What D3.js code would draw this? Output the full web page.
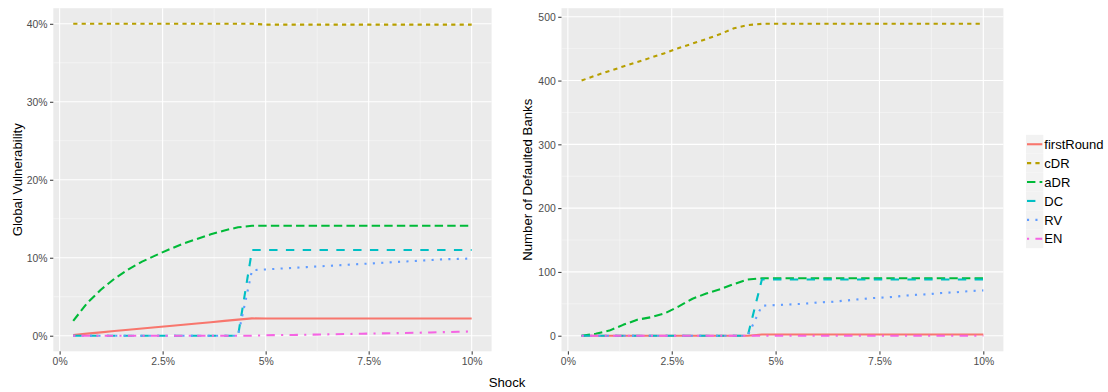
<!DOCTYPE html>
<html>
<head>
<meta charset="utf-8">
<script src="https://cdn.jsdelivr.net/npm/d3@7"></script>
<style>
  html, body { margin: 0; padding: 0; background: #ffffff; }
  svg { display: block; font-family: "Liberation Sans", Arial, sans-serif; }
</style>
</head>
<body>
<svg id="chart" width="1108" height="392"></svg>
<script>
// Shock levels (percent of assets)
const shock = [0.33, 0.67, 1.00, 1.33, 1.67, 2.00, 2.33, 2.67, 3.00, 3.33,
               3.67, 4.00, 4.33, 4.67, 5.00, 5.33, 5.67, 6.00, 6.33, 6.67,
               7.00, 7.33, 7.67, 8.00, 8.33, 8.67, 9.00, 9.33, 9.67, 10.00];

const seriesNames = ["firstRound", "cDR", "aDR", "DC", "RV", "EN"];

// Global vulnerability, percent
const vulnFirstRound = [0.10, 0.27, 0.43, 0.60, 0.76, 0.92, 1.08, 1.25, 1.41, 1.57,
                        1.73, 1.90, 2.06, 2.22, 2.20, 2.20, 2.20, 2.20, 2.20, 2.20,
                        2.20, 2.20, 2.20, 2.20, 2.20, 2.20, 2.20, 2.20, 2.20, 2.20];
const vulnCDR = [40.0, 40.0, 40.0, 40.0, 40.0, 40.0, 40.0, 40.0, 40.0, 40.0,
                 40.0, 40.0, 40.0, 40.0, 39.9, 39.9, 39.9, 39.9, 39.9, 39.9,
                 39.9, 39.9, 39.9, 39.9, 39.9, 39.9, 39.9, 39.9, 39.9, 39.9];
const vulnADR = [1.9, 4.2, 5.9, 7.3, 8.5, 9.5, 10.3, 11.1, 11.8, 12.4,
                 13.0, 13.5, 13.9, 14.1, 14.1, 14.1, 14.1, 14.1, 14.1, 14.1,
                 14.1, 14.1, 14.1, 14.1, 14.1, 14.1, 14.1, 14.1, 14.1, 14.1];
const vulnDC = [0, 0, 0, 0, 0, 0, 0, 0, 0, 0,
                0, 0, 0, 11.0, 11.0, 11.0, 11.0, 11.0, 11.0, 11.0,
                11.0, 11.0, 11.0, 11.0, 11.0, 11.0, 11.0, 11.0, 11.0, 11.0];
const vulnRV = [0, 0, 0, 0, 0, 0, 0, 0, 0, 0,
                0, 0, 0, 8.4, 8.5, 8.6, 8.7, 8.8, 8.9, 9.0,
                9.1, 9.2, 9.3, 9.4, 9.5, 9.6, 9.7, 9.8, 9.85, 9.9];
const vulnEN = [0, 0, 0, 0, 0, 0, 0, 0, 0, 0,
                0, 0, 0, 0, 0.05, 0.08, 0.10, 0.13, 0.16, 0.19,
                0.22, 0.25, 0.28, 0.31, 0.34, 0.38, 0.42, 0.46, 0.50, 0.55];

// Number of defaulted banks
const banksFirstRound = [0, 0, 0, 0, 0, 0, 0, 0, 0, 0,
                         0, 0, 0, 2, 2, 2, 2, 2, 2, 2,
                         2, 2, 2, 2, 2, 2, 2, 2, 2, 2];
const banksCDR = [400, 408, 415, 422, 429, 436, 443, 451, 458, 465,
                  473, 482, 487, 489, 489, 489, 489, 489, 489, 489,
                  489, 489, 489, 489, 489, 489, 489, 489, 489, 489];
const banksADR = [0, 3, 8, 17, 25, 29, 35, 46, 58, 66,
                  73, 81, 88, 90, 90, 90, 90, 90, 90, 90,
                  90, 90, 90, 90, 90, 90, 90, 90, 90, 90];
const banksDC = [0, 0, 0, 0, 0, 0, 0, 0, 0, 0,
                 0, 0, 0, 88, 88, 88, 88, 88, 88, 88,
                 88, 88, 88, 88, 88, 88, 88, 88, 88, 88];
const banksRV = [0, 0, 0, 0, 0, 0, 0, 0, 0, 0,
                 0, 0, 0, 47, 48, 49, 50, 52, 53, 55,
                 57, 59, 60, 62, 64, 65, 67, 68, 70, 71];
const banksEN = [0, 0, 0, 0, 0, 0, 0, 0, 0, 0,
                 0, 0, 0, 0, 0, 0, 0, 0, 0, 0,
                 0, 0, 0, 0, 0, 0, 0, 0, 0, 0];

// Tick values
const xTicks = [0, 2.5, 5, 7.5, 10];
const xMinor = [1.25, 3.75, 6.25, 8.75];
const vulnTicks = [0, 10, 20, 30, 40];
const vulnMinor = [5, 15, 25, 35];
const banksTicks = [0, 100, 200, 300, 400, 500];
const banksMinor = [50, 150, 250, 350, 450];

// Styling (ggplot2 hue palette and linetypes)
const colors = ["#F8766D", "#B79F00", "#00BA38", "#00BFC4", "#619CFF", "#F564E3"];
const lw = 2.1;
const dashes = [null, [2, 2], [4, 2], [4, 4], [1, 3], [1, 3, 4, 3]]
  .map(d => d ? d.map(v => v * lw).join(" ") : null);

const svg = d3.select("#chart");
const font = '"Liberation Sans", Arial, sans-serif';

function expand(ext) {
  const pad = (ext[1] - ext[0]) * 0.05;
  return [ext[0] - pad, ext[1] + pad];
}

function drawPanel(opts) {
  const { left, right, top, bottom, series, yTicks, yMinor, yFormat, title, titleX } = opts;
  const all = series.flat();
  const x = d3.scaleLinear().domain(expand(d3.extent(shock))).range([left, right]);
  const y = d3.scaleLinear().domain(expand([Math.min(0, d3.min(all)), d3.max(all)])).range([bottom, top]);

  const g = svg.append("g");
  g.append("rect").attr("x", left).attr("y", top)
    .attr("width", right - left).attr("height", bottom - top).attr("fill", "#EBEBEB");

  // minor grid
  g.selectAll(".xmin").data(xMinor).join("line")
    .attr("x1", d => x(d)).attr("x2", d => x(d)).attr("y1", top).attr("y2", bottom)
    .attr("stroke", "#FAFAFA").attr("stroke-width", 0.55);
  g.selectAll(".ymin").data(yMinor).join("line")
    .attr("x1", left).attr("x2", right).attr("y1", d => y(d)).attr("y2", d => y(d))
    .attr("stroke", "#FAFAFA").attr("stroke-width", 0.55);
  // major grid
  g.selectAll(".xmaj").data(xTicks).join("line")
    .attr("x1", d => x(d)).attr("x2", d => x(d)).attr("y1", top).attr("y2", bottom)
    .attr("stroke", "#FFFFFF").attr("stroke-width", 1.1);
  g.selectAll(".ymaj").data(yTicks).join("line")
    .attr("x1", left).attr("x2", right).attr("y1", d => y(d)).attr("y2", d => y(d))
    .attr("stroke", "#FFFFFF").attr("stroke-width", 1.1);

  // axes
  const xAxis = d3.axisBottom(x).tickValues(xTicks).tickSize(3.3).tickPadding(1.5)
    .tickFormat(d => d + "%");
  const gx = g.append("g").attr("transform", `translate(0,${bottom})`).call(xAxis);
  const yAxis = d3.axisLeft(y).tickValues(yTicks).tickSize(3.3).tickPadding(2.5)
    .tickFormat(yFormat);
  const gy = g.append("g").attr("transform", `translate(${left},0)`).call(yAxis);
  [gx, gy].forEach(a => {
    a.select(".domain").remove();
    a.selectAll(".tick line").attr("stroke", "#333333").attr("stroke-width", 1);
    a.selectAll(".tick text").attr("fill", "#4D4D4D").style("font-size", "10.4px")
      .style("font-family", font);
  });
  gx.selectAll(".tick text").attr("dy", "0.71em").attr("y", 6);
  gy.selectAll(".tick text").attr("dy", "0.36em");

  // lines
  const line = d3.line().x((d, i) => x(shock[i])).y(d => y(d));
  series.forEach((vals, k) => {
    g.append("path").datum(vals).attr("d", line)
      .attr("fill", "none").attr("stroke", colors[k]).attr("stroke-width", lw)
      .attr("stroke-linejoin", "round").attr("stroke-linecap", "butt")
      .attr("stroke-dasharray", dashes[k]);
  });

  // y-axis title
  const cy = (top + bottom) / 2;
  g.append("text").attr("transform", `translate(${titleX},${cy}) rotate(-90)`)
    .attr("text-anchor", "middle").attr("fill", "#000").style("font-size", "13.2px")
    .style("font-family", font).text(title);
}

drawPanel({
  left: 53.3, right: 491.6, top: 8.2, bottom: 351.3,
  series: [vulnFirstRound, vulnCDR, vulnADR, vulnDC, vulnRV, vulnEN],
  yTicks: vulnTicks, yMinor: vulnMinor, yFormat: d => d + "%",
  title: "Global Vulnerability", titleX: 21.5
});

drawPanel({
  left: 561.5, right: 1003.4, top: 8.2, bottom: 351.3,
  series: [banksFirstRound, banksCDR, banksADR, banksDC, banksRV, banksEN],
  yTicks: banksTicks, yMinor: banksMinor, yFormat: d => d,
  title: "Number of Defaulted Banks", titleX: 532
});

// shared x-axis title
svg.append("text").attr("x", 507).attr("y", 387).attr("text-anchor", "middle")
  .attr("fill", "#000").style("font-size", "13.2px").style("font-family", font).text("Shock");

// legend
const legend = svg.append("g");
const keyX = 1026, keyW = 17.3, keyH = 18.9, keyTop = 134.8;
seriesNames.forEach((name, k) => {
  const yTop = keyTop + k * keyH;
  legend.append("rect").attr("x", keyX).attr("y", yTop).attr("width", keyW).attr("height", keyH)
    .attr("fill", "#F2F2F2");
  legend.append("line").attr("x1", keyX + 1).attr("x2", keyX + keyW - 1)
    .attr("y1", yTop + keyH / 2).attr("y2", yTop + keyH / 2)
    .attr("stroke", colors[k]).attr("stroke-width", lw).attr("stroke-dasharray", dashes[k]);
  legend.append("text").attr("x", keyX + keyW + 1).attr("y", yTop + keyH / 2).attr("dy", "0.36em")
    .attr("fill", "#000").style("font-size", "13px").style("font-family", font).text(name);
});
</script>
</body>
</html>
